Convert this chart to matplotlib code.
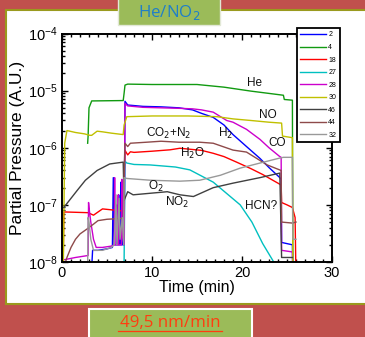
import matplotlib
matplotlib.use("Agg")
import matplotlib.pyplot as plt
from matplotlib.patches import Rectangle
from matplotlib.lines import Line2D
from matplotlib.ticker import LogLocator, FixedLocator, MultipleLocator, NullFormatter

plt.rcParams["font.family"] = ["Liberation Sans", "DejaVu Sans"]

# ---------------- data (time in min, partial pressure in A.U.) ----------------
T2 = [3.3, 3.4, 4.0, 5.0, 5.6, 5.7, 5.8, 6.05, 6.1, 6.15, 6.25, 6.3, 6.35, 6.5, 6.55, 6.6,
      6.7, 6.75, 6.8, 6.9, 7.0, 7.3, 9, 11, 13, 14.5, 15.5, 16.8, 18, 19, 20.5, 22, 23, 24.2,
      24.35, 24.4, 25.6, 25.65]
V2 = [8e-9, 1.6e-8, 1.6e-8, 1.7e-8, 1.8e-8, 3e-7, 2e-8, 2e-8, 1e-7, 2e-8, 2e-8, 1.5e-7, 2e-8,
      2e-8, 2.5e-7, 2e-8, 2e-8, 1.2e-7, 2e-8, 2e-8, 6.5e-6, 5.6e-6, 5.3e-6, 5.2e-6, 5.0e-6,
      4.6e-6, 4.0e-6, 3.4e-6, 2.5e-6, 1.7e-6, 1.05e-6, 6.5e-7, 4.5e-7, 3.0e-7, 2.8e-7, 2.2e-8,
      2.0e-8, 5e-9]

T4 = [2.85, 2.9, 3.0, 3.3, 6.8, 6.9, 7.0, 7.3, 10, 15, 18, 21, 24.6, 24.7, 25.6, 25.65]
V4 = [1.2e-6, 1.6e-6, 5e-6, 6.6e-6, 6.7e-6, 9e-6, 1.25e-5, 1.3e-5, 1.28e-5, 1.28e-5, 1.15e-5,
      9.8e-6, 8.3e-6, 7e-6, 6.8e-6, 5e-9]

T18 = [0.0, 0.15, 0.2, 0.5, 2.9, 3.5, 4.0, 4.5, 6.8, 6.9, 7.0, 7.3, 7.6, 8, 10, 12, 13.1, 15.5,
       16.8, 18, 19.4, 21, 22.3, 24.2, 24.35, 24.4, 25.0, 25.6, 25.9, 26.0]
V18 = [8e-9, 1.5e-8, 7.5e-8, 7.5e-8, 7.3e-8, 6.6e-8, 7.5e-8, 8.5e-8, 7.8e-8, 3e-7, 9e-7,
       7.5e-7, 8.5e-7, 8.3e-7, 8.7e-7, 9.2e-7, 9.8e-7, 9e-7, 8e-7, 7e-7, 5.6e-7, 4.3e-7,
       3.4e-7, 2.3e-7, 2.2e-7, 1.1e-7, 1.0e-7, 9e-8, 6e-8, 5e-9]

T27 = [6.8, 6.9, 7.0, 7.2, 8, 9.8, 12.6, 14.2, 16.8, 18.7, 19.8, 21.1, 22.3, 23.7]
V27 = [5e-9, 1e-8, 5.8e-7, 5.4e-7, 5.1e-7, 5e-7, 4.6e-7, 4.1e-7, 2.5e-7, 1.4e-7, 1e-7, 5e-8,
       2.1e-8, 9e-9]

T28 = [0.3, 1.5, 2.9, 2.95, 3.0, 3.2, 3.5, 3.8, 4.5, 5.5, 5.8, 5.85, 5.9, 6.2, 6.25, 6.3,
       6.6, 6.65, 6.7, 6.9, 7.0, 7.3, 9, 11, 13, 14.5, 15.5, 16.8, 18.3, 19, 20.5, 22, 23,
       24.2, 24.35, 24.4, 25.6, 25.65]
V28 = [1.1e-8, 1.2e-8, 1.3e-8, 1.1e-7, 9e-8, 5e-8, 2.5e-8, 1.8e-8, 1.8e-8, 1.9e-8, 2e-8,
       3e-7, 2e-8, 2e-8, 1.5e-7, 2e-8, 2e-8, 2.8e-7, 3e-8, 2e-8, 6e-6, 5.4e-6, 5.1e-6, 5.0e-6,
       4.9e-6, 4.8e-6, 4.6e-6, 4.2e-6, 3.0e-6, 2.8e-6, 2.1e-6, 1.4e-6, 1.0e-6, 7e-7, 6.8e-7,
       1.6e-8, 1.5e-8, 5e-9]

T30 = [0.15, 0.3, 0.55, 1.5, 2.5, 3.1, 3.3, 3.9, 4.5, 5.5, 6.8, 6.9, 7.2, 10, 14, 17.2, 19,
       21, 23, 24.4, 24.5, 25.6, 25.65]
V30 = [9e-9, 1.2e-6, 2.0e-6, 1.85e-6, 1.75e-6, 1.65e-6, 1.65e-6, 1.95e-6, 1.9e-6, 1.8e-6,
       1.7e-6, 2.5e-6, 3.5e-6, 3.6e-6, 3.6e-6, 3.5e-6, 3.2e-6, 3.0e-6, 2.8e-6, 2.7e-6, 1.6e-6,
       1.5e-6, 5e-9]

T46 = [0.2, 1.7, 2.6, 3.9, 5.3, 6.8, 6.9, 7.3, 7.9, 11.7, 13.1, 14.6, 16.8, 19, 22, 24.2,
       24.4, 25.6]
V46 = [9e-8, 1.8e-7, 2.7e-7, 4e-7, 5.2e-7, 5.6e-7, 1.2e-7, 1.7e-7, 1.5e-7, 1.7e-7, 1.5e-7,
       1.4e-7, 2e-7, 2.4e-7, 3e-7, 3.6e-7, 1.2e-8, 1.2e-8]

T44 = [0.2, 0.55, 1.0, 1.5, 2.0, 2.9, 3.5, 4.0, 5, 6.8, 6.9, 7.0, 7.3, 7.6, 9.4, 11, 13, 15.3,
       16.8, 19, 20.5, 22.8, 24.35, 24.4, 25.6, 26.0]
V44 = [8e-9, 1.2e-8, 1.8e-8, 2.5e-8, 3.1e-8, 3.9e-8, 4.6e-8, 5.3e-8, 5.6e-8, 5.8e-8, 3e-7,
       1.2e-6, 1.05e-6, 1.2e-6, 1.25e-6, 1.3e-6, 1.25e-6, 1.25e-6, 1.2e-6, 9.1e-7, 8.4e-7,
       5e-7, 4e-7, 5e-8, 4.8e-8, 5e-8]

T32 = [2.85, 2.9, 3.0, 3.2, 3.5, 4.5, 5.5, 5.8, 6.0, 6.1, 6.35, 6.45, 6.7, 6.85, 6.9, 7.2,
       9.8, 13.1, 15.3, 17.6, 19.8, 22, 24.2, 24.6, 25.6, 25.65, 26.0]
V32 = [8e-9, 6e-8, 5e-8, 2.5e-8, 1.6e-8, 1.6e-8, 1.8e-8, 2e-8, 1.5e-7, 2e-8, 1.3e-7, 2.5e-8,
       6e-8, 2e-8, 3e-7, 2.9e-7, 2.7e-7, 2.6e-7, 2.7e-7, 3.3e-7, 4.4e-7, 5.4e-7, 6.6e-7,
       6.8e-7, 6.8e-7, 2.5e-8, 2.5e-8]

SERIES = [("2", T2, V2, "#0000ff"), ("4", T4, V4, "#119a11"), ("18", T18, V18, "#ff0000"),
          ("27", T27, V27, "#00c0c0"), ("28", T28, V28, "#cc00cc"), ("30", T30, V30, "#c0c000"),
          ("46", T46, V46, "#404040"), ("44", T44, V44, "#8e4a4a"), ("32", T32, V32, "#999999")]

# (label, t, value)
NOTES = [("He", 21.4, 1.36e-5), ("NO", 22.9, 3.7e-6), ("CO$_2$+N$_2$", 11.9, 1.75e-6),
         ("H$_2$", 18.2, 1.8e-6), ("CO", 23.9, 1.2e-6), ("H$_2$O", 14.5, 7.8e-7),
         ("O$_2$", 10.4, 2.1e-7), ("NO$_2$", 12.8, 1.1e-7), ("HCN?", 22.1, 9.5e-8)]

# ---------------- figure ----------------
W, H = 365, 337
fig = plt.figure(figsize=(W / 100, H / 100), dpi=100)
fig.patch.set_facecolor("#c0504d")


def fx(px):
    return px / W


def fy(py):
    return 1 - py / H


fig.add_artist(Rectangle((fx(6), fy(304)), fx(380) - fx(6), fy(10) - fy(304),
                         transform=fig.transFigure, facecolor="white",
                         edgecolor="#9a9a1e", lw=1.5, zorder=-5))
fig.add_artist(Rectangle((fx(118), fy(25)), fx(220) - fx(118), 0.2,
                         transform=fig.transFigure, facecolor="#9bbb59",
                         edgecolor="#e2e8d6", lw=1.0, zorder=-4))
fig.add_artist(Rectangle((fx(89), -0.1), fx(252) - fx(89), fy(309) + 0.1,
                         transform=fig.transFigure, facecolor="#9bbb59",
                         edgecolor="white", lw=1.5, zorder=-4))
fig.text(fx(169), fy(12), "He/NO$_2$", family="Open Sans", fontsize=12.2,
         color="#1f7fc8", ha="center", va="center")
fig.text(fx(170), fy(323), "49,5 nm/min", family="Open Sans", fontsize=12.2,
         color="#ff3d10", ha="center", va="center")
fig.add_artist(Line2D([fx(118), fx(222)], [fy(331), fy(331)], transform=fig.transFigure,
                      color="#ff3d10", lw=0.9))

ax = fig.add_axes([fx(62), fy(262), fx(332) - fx(62), fy(33.5) - fy(262)])
ax.set_facecolor("white")
for name, t, v, c in SERIES:
    ax.plot(t, v, color=c, lw=1.0, label=name)

ax.set_yscale("log")
ax.set_xlim(0, 30)
ax.set_ylim(1e-8, 1e-4)
ax.xaxis.set_major_locator(FixedLocator([0, 10, 20, 30]))
ax.xaxis.set_minor_locator(MultipleLocator(1))
ax.yaxis.set_major_locator(FixedLocator([1e-8, 1e-7, 1e-6, 1e-5, 1e-4]))
ax.yaxis.set_minor_locator(LogLocator(base=10, subs=range(2, 10)))
ax.yaxis.set_minor_formatter(NullFormatter())
ax.set_yticklabels([r"$\mathregular{10^{-%d}}$" % k for k in (8, 7, 6, 5, 4)])
ax.tick_params(which="both", direction="in", top=True, right=True, width=1.0,
               labelsize=10.5, color="black")
ax.tick_params(which="major", length=4, pad=3)
ax.tick_params(which="minor", length=2.4)
for sp in ax.spines.values():
    sp.set_linewidth(1.4)

ax.set_xlabel("Time (min)", fontsize=11.5, labelpad=0)
ax.set_ylabel("Partial Pressure (A.U.)", fontsize=12.5, labelpad=2)

for txt, t, v in NOTES:
    ax.text(t, v, txt, fontsize=8.5, ha="center", va="center", color="#111111")

fig.legend(loc="upper left", bbox_to_anchor=(fx(297), fy(28)), fontsize=5,
           frameon=True, fancybox=False, edgecolor="black", framealpha=1,
           handlelength=3.7, handletextpad=0.3, labelspacing=0.8, borderpad=0.5,
           borderaxespad=0)
fig.legends[0].get_frame().set_linewidth(1.3)

fig.savefig("out.png", dpi=100, facecolor=fig.get_facecolor())
